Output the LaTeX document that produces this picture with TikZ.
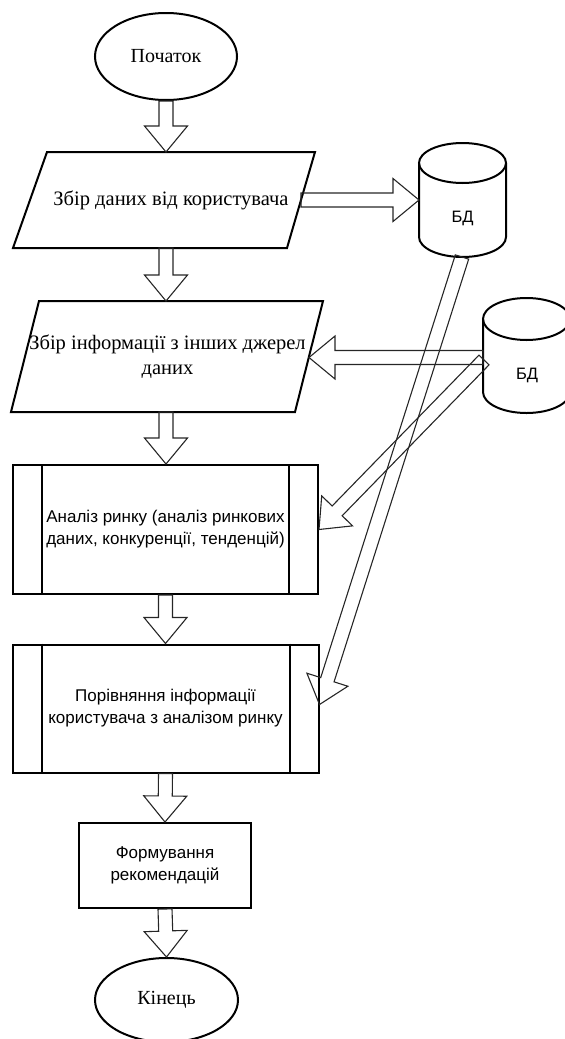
\documentclass[tikz,border=0pt]{standalone}
\usepackage{fontspec}
\setmainfont{Liberation Serif}
\newfontfamily\sansf{Liberation Sans}
\usetikzlibrary{calc,shapes.geometric}
\newcommand\blockarrow[2]{%
  \draw[barrow] let \p1=(#1), \p2=(#2), \p3=($(\p2)!26pt!(\p1)$) in
    ($(\p1)!7pt!90:(\p2)$) -- ($(\p3)!7pt!90:(\p2)$) -- ($(\p3)!21.5pt!90:(\p2)$) -- (\p2)
    -- ($(\p3)!21.5pt!-90:(\p2)$) -- ($(\p3)!7pt!-90:(\p2)$) -- ($(\p1)!7pt!-90:(\p2)$) -- cycle;}
\begin{document}
\begin{tikzpicture}[x=1pt,y=-1pt,
  outline/.style={draw=black,line width=2pt},
  term/.style={outline,ellipse,inner sep=0pt,font=\fontsize{20}{24}\selectfont},
  proc/.style={outline,rectangle,inner sep=0pt,align=center,font=\sansf\fontsize{17}{22}\selectfont},
  sertext/.style={align=center,inner sep=0pt,font=\fontsize{20.5}{25}\selectfont},
  dbtext/.style={inner sep=0pt,font=\sansf\fontsize{16.5}{20}\selectfont},
  barrow/.style={draw=black!85,line width=1.1pt,line join=miter}]
\useasboundingbox (0,0) rectangle (565,1039);

% terminals
\node[term,minimum width=142pt,minimum height=87pt] (start) at (166,56.5) {Початок};
\node[term,minimum width=143pt,minimum height=84pt] (finish) at (166.5,1000) {Кінець};

% parallelogram 1
\coordinate (p1nw) at (47,152);
\coordinate (p1ne) at (315,152);
\coordinate (p1se) at (287,248);
\coordinate (p1sw) at (13,248);
\draw[outline,line join=miter] (p1nw) -- (p1ne) -- (p1se) -- (p1sw) -- cycle;
\node[sertext] (p1) at (171,200) {Збір даних від користувача};
\coordinate (p1top) at (166,152);
\coordinate (p1bot) at (166,248);
\coordinate (p1east) at (301,200);

% parallelogram 2
\coordinate (p2nw) at (39,301);
\coordinate (p2ne) at (323,301);
\coordinate (p2se) at (295,412);
\coordinate (p2sw) at (11,412);
\draw[outline,line join=miter] (p2nw) -- (p2ne) -- (p2se) -- (p2sw) -- cycle;
\node[sertext] (p2) at (167.5,357) {Збір інформації з інших джерел\\даних};
\coordinate (p2top) at (166,301);
\coordinate (p2bot) at (166,412);
\coordinate (p2east) at (309,357.5);

% database 1
\draw[outline] (419,163) -- (419,237) arc[start angle=180,end angle=360,x radius=43.5pt,y radius=20pt] -- (506,163);
\draw[outline] (462.5,163) ellipse[x radius=43.5pt,y radius=20pt];
\node[dbtext] (db1) at (462.5,218) {БД};
\coordinate (db1west) at (419,200);
\coordinate (db1south) at (462,257);

% database 2
\draw[outline] (483,319) -- (483,392) arc[start angle=180,end angle=360,x radius=43.5pt,y radius=21pt] -- (570,319);
\draw[outline] (526.5,319) ellipse[x radius=43.5pt,y radius=21pt];
\node[dbtext] (db2) at (527,375) {БД};
\coordinate (db2west) at (483,357.5);
\coordinate (db2tail) at (484,360);

% processes
\node[proc,minimum width=305pt,minimum height=129pt] (r3) at (165.5,529.5)
  {Аналіз ринку (аналіз ринкових\\даних, конкуренції, тенденцій)};
\draw[outline] ($(r3.north west)+(30,0)$) -- ($(r3.south west)+(30,0)$);
\draw[outline] ($(r3.north east)+(-30,0)$) -- ($(r3.south east)+(-30,0)$);

\node[proc,minimum width=306pt,minimum height=128pt] (r4) at (165.5,708.5)
  {Порівняння інформації\\користувача з аналізом ринку};
\draw[outline] ($(r4.north west)+(30,0)$) -- ($(r4.south west)+(30,0)$);
\draw[outline] ($(r4.north east)+(-30,0)$) -- ($(r4.south east)+(-30,0)$);
\coordinate (r4in) at ($(r4.east)+(0,-4)$);

\node[proc,minimum width=172pt,minimum height=85pt] (r5) at (165,865.5)
  {Формування\\рекомендацій};

% block arrows
\blockarrow{start.south}{p1top}
\blockarrow{p1bot}{p2top}
\blockarrow{p2bot}{p2bot |- r3.north}
\blockarrow{r3.south}{r4.north}
\blockarrow{r4.south}{r5.north}
\blockarrow{r5.south}{finish.north}
\blockarrow{p1east}{db1west}
\blockarrow{db2west}{p2east}
\blockarrow{db2tail}{r3.east}
\blockarrow{db1south}{r4in}
\end{tikzpicture}
\end{document}
